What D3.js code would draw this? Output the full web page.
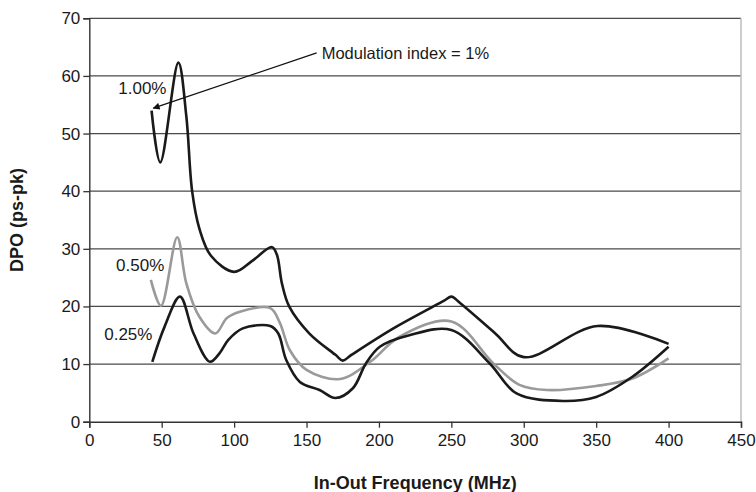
<!DOCTYPE html>
<html>
<head>
<meta charset="utf-8">
<script src="https://cdn.jsdelivr.net/npm/d3@7"></script>
<style>
  html, body { margin: 0; padding: 0; background: #fff; }
  svg { display: block; font-family: "Liberation Sans", Arial, sans-serif; }
</style>
</head>
<body>
<div id="chart"></div>
<script>
// values (MHz, ps-pk)
const freq100 = [43, 49, 61.5, 67, 71, 76, 84, 100, 113, 126, 129.5, 133, 138, 152, 170, 175, 181, 210, 245, 250, 256, 280, 300, 351, 400]
const dpo100  = [54, 45, 62.3, 53, 40, 33.5, 28.8, 26, 28, 30.3, 29, 24, 20, 15.3, 11.6, 10.6, 11.6, 16.2, 21, 21.7, 20.6, 15.4, 11.2, 16.6, 13.5]

const freq050 = [42.5, 49.5, 60.7, 67, 76, 87, 95, 104, 125, 131.5, 138.5, 150, 173, 194, 214, 250, 279, 297, 316, 350, 375, 400]
const dpo050  = [24.6, 20.1, 32, 24, 18.2, 15.3, 18, 19.1, 19.7, 17.2, 12.4, 9, 7.4, 10.4, 14.7, 17.4, 10.1, 6.4, 5.5, 6.2, 7.5, 11]

const freq025 = [43.5, 52, 62.6, 72, 83.3, 90, 96, 106, 125, 130.5, 136, 145.4, 159, 170, 182, 191, 200.6, 221, 250, 276.5, 295, 327, 350, 375, 400]
const dpo025  = [10.4, 16.5, 21.7, 15.3, 10.4, 11.9, 14.2, 16.2, 16.6, 15.3, 10.7, 6.9, 5.5, 4.1, 5.8, 10.1, 13, 15, 15.9, 10.1, 4.9, 3.6, 4.3, 7.8, 13]

const xTicks = [0, 50, 100, 150, 200, 250, 300, 350, 400, 450]
const yTicks = [0, 10, 20, 30, 40, 50, 60, 70]

const seriesNames = ['1.00%', '0.50%', '0.25%']
const labelFreq = [20, 18.5, 10.3]
const labelDpo  = [57.9, 27.2, 15.2]

const noteText = 'Modulation index = 1%'
const noteFrom = [157, 64]
const noteTo   = [44.2, 54.4]

const W = 756, H = 492
const margin = { top: 18.3, left: 89.3, right: 15, bottom: 70.3 }
const width = W - margin.left - margin.right
const height = H - margin.top - margin.bottom

const x = d3.scaleLinear().domain([0, 450]).range([0, width])
const y = d3.scaleLinear().domain([0, 70]).range([height, 0])

const svg = d3.select('#chart')
	.append('svg')
	.attr('width', W)
	.attr('height', H)

svg.append('defs').append('marker')
	.attr('id', 'arrow')
	.attr('viewBox', '0 0 10 10')
	.attr('refX', 9)
	.attr('refY', 5)
	.attr('markerWidth', 9)
	.attr('markerHeight', 7)
	.attr('markerUnits', 'userSpaceOnUse')
	.attr('orient', 'auto')
	.append('path')
	.attr('d', 'M0,0 L10,5 L0,10 z')
	.attr('fill', '#111')

const g = svg.append('g')
	.attr('transform', `translate(${margin.left},${margin.top})`)

// grid
g.append('g')
	.selectAll('line')
	.data(yTicks.filter(d => d > 0))
	.enter()
	.append('line')
	.attr('x1', 0)
	.attr('x2', width)
	.attr('y1', d => y(d))
	.attr('y2', d => y(d))
	.attr('stroke', '#4a4a4a')
	.attr('stroke-width', 1.3)

// right border
g.append('line')
	.attr('x1', width).attr('x2', width)
	.attr('y1', 0).attr('y2', height)
	.attr('stroke', '#bdbdbd')
	.attr('stroke-width', 1.5)

const xAxis = g.append('g')
	.attr('transform', `translate(0,${height})`)
	.call(d3.axisBottom(x).tickValues(xTicks).tickSize(6).tickPadding(6).tickFormat(d3.format('d')))
const yAxis = g.append('g')
	.call(d3.axisLeft(y).tickValues(yTicks).tickSize(6).tickPadding(3).tickFormat(d3.format('d')))

;[xAxis, yAxis].forEach(a => {
	a.select('.domain').attr('stroke', '#333').attr('stroke-width', 1.4)
	a.selectAll('.tick line').attr('stroke', '#333').attr('stroke-width', 1.3)
	a.selectAll('.tick text')
		.attr('fill', '#1a1a1a')
		.style('font-size', '17px')
		.style('font-family', '"Liberation Sans", Arial, sans-serif')
})

const line = d3.line()
	.x(d => x(d[0]))
	.y(d => y(d[1]))
	.curve(d3.curveCatmullRom.alpha(0.5))

const series = [
	{ xs: freq100, ys: dpo100, color: '#1a1a1a' },
	{ xs: freq050, ys: dpo050, color: '#9a9a9a' },
	{ xs: freq025, ys: dpo025, color: '#1a1a1a' }
]

// draw grey first so black lines sit on top
;[series[1], series[2], series[0]].forEach(s => {
	g.append('path')
		.datum(d3.zip(s.xs, s.ys))
		.attr('fill', 'none')
		.attr('stroke', s.color)
		.attr('stroke-width', 2.6)
		.attr('stroke-linejoin', 'round')
		.attr('d', line)
})

// series labels
g.selectAll('.slabel')
	.data(seriesNames)
	.enter()
	.append('text')
	.attr('class', 'slabel')
	.attr('x', (d, i) => x(labelFreq[i]))
	.attr('y', (d, i) => y(labelDpo[i]))
	.attr('dy', '0.35em')
	.style('font-size', '17px')
	.attr('fill', '#1a1a1a')
	.text(d => d)

// annotation
g.append('line')
	.attr('x1', x(noteFrom[0]))
	.attr('y1', y(noteFrom[1]))
	.attr('x2', x(noteTo[0]))
	.attr('y2', y(noteTo[1]))
	.attr('stroke', '#111')
	.attr('stroke-width', 1.3)
	.attr('marker-end', 'url(#arrow)')

g.append('text')
	.attr('x', x(noteFrom[0]) + 5)
	.attr('y', y(noteFrom[1]))
	.attr('dy', '0.35em')
	.style('font-size', '16.5px')
	.attr('fill', '#1a1a1a')
	.text(noteText)

// axis titles
svg.append('text')
	.attr('x', margin.left + x(225))
	.attr('y', 489)
	.attr('text-anchor', 'middle')
	.style('font-size', '18px')
	.style('font-weight', 'bold')
	.attr('fill', '#1a1a1a')
	.text('In-Out Frequency (MHz)')

svg.append('text')
	.attr('transform', `translate(23,${margin.top + height / 2}) rotate(-90)`)
	.attr('text-anchor', 'middle')
	.style('font-size', '18px')
	.style('font-weight', 'bold')
	.attr('fill', '#1a1a1a')
	.text('DPO (ps-pk)')
</script>
</body>
</html>
